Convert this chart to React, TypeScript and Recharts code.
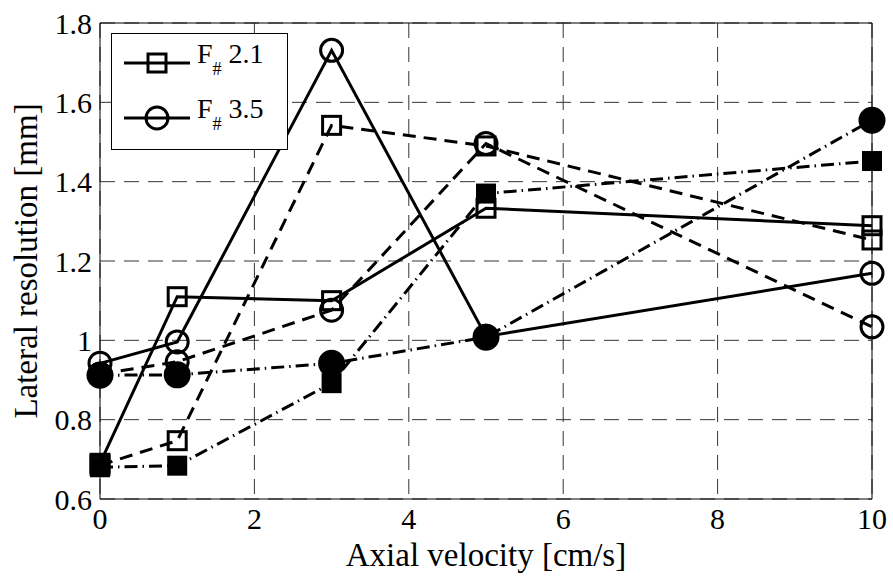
import React from 'react';
import { LineChart, Line, XAxis, YAxis, CartesianGrid, ReferenceLine } from 'recharts';

// axial velocity [cm/s]
const velocity = [0, 1, 3, 5, 10];

// lateral resolution [mm]
const f21Solid = [0.69, 1.11, 1.1, 1.333, 1.289];
const f35Solid = [0.942, 0.996, 1.731, 1.01, 1.169];
const f21Dashed = [0.685, 0.747, 1.542, 1.49, 1.253];
const f35Dashed = [0.915, 0.946, 1.076, 1.496, 1.034];
const f21DashDot = [0.68, 0.684, 0.892, 1.37, 1.452];
const f35DashDot = [0.912, 0.913, 0.942, 1.008, 1.555];

const xTicks = [0, 2, 4, 6, 8, 10];
const yTicks = [0.6, 0.8, 1, 1.2, 1.4, 1.6, 1.8];

const legendItems = [
  { label: '2.1', marker: 'square' },
  { label: '3.5', marker: 'circle' },
];

const data = velocity.map((v, i) => ({
  v,
  f21Solid: f21Solid[i],
  f35Solid: f35Solid[i],
  f21Dashed: f21Dashed[i],
  f35Dashed: f35Dashed[i],
  f21DashDot: f21DashDot[i],
  f35DashDot: f35DashDot[i],
}));

const FONT = 'Liberation Serif, DejaVu Serif, serif';
const DASH = '13 8';
const DASH_DOT = '13 5 1.5 5';

// marker shapes
const OpenSquare = (props: any) => {
  const { cx, cy, index } = props;
  if (cx == null || cy == null) return <g key={index} />;
  return <rect key={index} x={cx - 9} y={cy - 9} width={18} height={18} fill="none" stroke="#000" strokeWidth={3} />;
};
const FilledSquare = (props: any) => {
  const { cx, cy, index } = props;
  if (cx == null || cy == null) return <g key={index} />;
  return <rect key={index} x={cx - 10} y={cy - 10} width={20} height={20} fill="#000" />;
};
const OpenCircle = (props: any) => {
  const { cx, cy, index } = props;
  if (cx == null || cy == null) return <g key={index} />;
  return <circle key={index} cx={cx} cy={cy} r={11} fill="none" stroke="#000" strokeWidth={3} />;
};
const FilledCircle = (props: any) => {
  const { cx, cy, index } = props;
  if (cx == null || cy == null) return <g key={index} />;
  return <circle key={index} cx={cx} cy={cy} r={13.5} fill="#000" />;
};

const series = [
  { key: 'f21Solid', dash: undefined, dot: OpenSquare },
  { key: 'f35Solid', dash: undefined, dot: OpenCircle },
  { key: 'f21Dashed', dash: DASH, dot: OpenSquare },
  { key: 'f35Dashed', dash: DASH, dot: OpenCircle },
  { key: 'f21DashDot', dash: DASH_DOT, dot: FilledSquare },
  { key: 'f35DashDot', dash: DASH_DOT, dot: FilledCircle },
];

const XTitle = (props: any) => {
  const vb = props.viewBox || { x: 100, y: 499, width: 772, height: 78 };
  return (
    <text x={vb.x + vb.width / 2} y={vb.y + 67} textAnchor="middle" fontSize={33} style={{ fontFamily: FONT }} fill="#000">
      Axial velocity [cm/s]
    </text>
  );
};

const YTitle = (props: any) => {
  const vb = props.viewBox || { x: 0, y: 23, width: 100, height: 476 };
  const x = vb.x + 26;
  const y = vb.y + vb.height / 2;
  return (
    <text
      x={x}
      y={y}
      transform={`rotate(-90, ${x}, ${y})`}
      textAnchor="middle"
      dominantBaseline="central"
      fontSize={33}
      style={{ fontFamily: FONT }}
      fill="#000"
    >
      Lateral resolution [mm]
    </text>
  );
};

// legend box, drawn like the MATLAB one
const LegendBox = () => (
  <svg width={177} height={117} style={{ position: 'absolute', left: 111, top: 33 }}>
    <rect x={0.5} y={0.5} width={176} height={116} fill="#fff" stroke="#000" strokeWidth={1} />
    {legendItems.map((item, i) => {
      const y = 30 + i * 55;
      return (
        <g key={item.label}>
          <line x1={13} x2={79} y1={y} y2={y} stroke="#000" strokeWidth={3} />
          {item.marker === 'square' ? (
            <rect x={37} y={y - 9} width={18} height={18} fill="none" stroke="#000" strokeWidth={3} />
          ) : (
            <circle cx={46} cy={y} r={11} fill="none" stroke="#000" strokeWidth={3} />
          )}
          <text x={86} y={y} fontSize={28} style={{ fontFamily: FONT }} fill="#000">
            F
            <tspan fontSize={18} dy={12}>#</tspan>
            <tspan dy={-12}> {item.label}</tspan>
          </text>
        </g>
      );
    })}
  </svg>
);

const tickStyle = { fontSize: 30, fill: '#000', style: { fontFamily: FONT } };

export default function App() {
  return (
    <div style={{ position: 'absolute', left: 0, top: 0, width: 893, height: 577, background: '#fff', fontFamily: FONT }}>
      <LineChart width={893} height={577} data={data} margin={{ top: 23, right: 21, left: 0, bottom: 0 }}>
        <CartesianGrid strokeDasharray="15 9" stroke="#333" strokeWidth={1} />
        <XAxis
          dataKey="v"
          type="number"
          domain={[0, 10]}
          ticks={xTicks}
          height={78}
          tickSize={0}
          tickMargin={9}
          tickLine={false}
          axisLine={{ stroke: '#000', strokeWidth: 1 }}
          tick={tickStyle}
          label={<XTitle />}
        />
        <YAxis
          type="number"
          domain={[0.6, 1.8]}
          ticks={yTicks}
          width={100}
          tickSize={0}
          tickMargin={8}
          tickLine={false}
          axisLine={{ stroke: '#000', strokeWidth: 1 }}
          tick={tickStyle}
          tickFormatter={(v: number) => String(+v.toFixed(1))}
          label={<YTitle />}
        />
        <ReferenceLine y={1.8} stroke="#000" strokeWidth={1} />
        <ReferenceLine x={10} stroke="#000" strokeWidth={1} />
        {series.map((s) => (
          <Line
            key={s.key}
            dataKey={s.key}
            type="linear"
            stroke="#000"
            strokeWidth={3}
            strokeDasharray={s.dash}
            dot={s.dot}
            activeDot={false}
            isAnimationActive={false}
          />
        ))}
      </LineChart>
      <LegendBox />
    </div>
  );
}
